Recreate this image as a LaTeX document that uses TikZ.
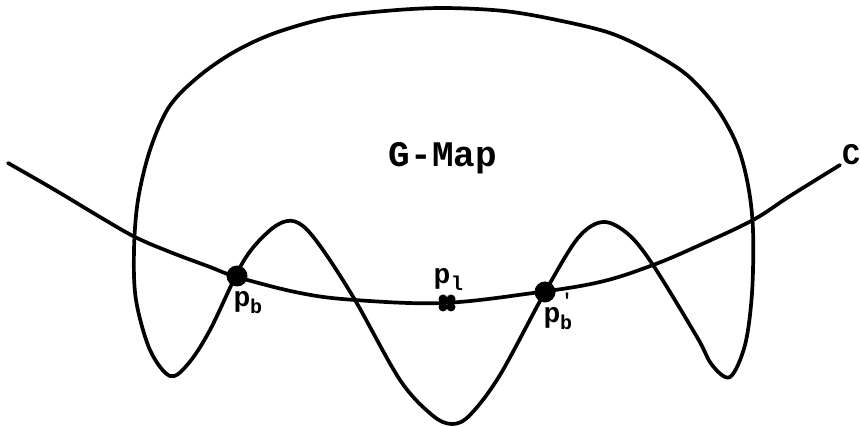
\documentclass[tikz,border=0pt]{standalone}
\usepackage{fontspec}
\newfontfamily\monofont{Liberation Mono}
\tikzset{
  curveline/.style={line width=3.7pt, line join=round, line cap=round},
  bigdot/.style={circle, fill=black, inner sep=0pt, minimum size=21pt},
  lbl/.style={font=\monofont\bfseries, inner sep=0pt},
}
\newcommand{\pfont}{\fontsize{28}{28}\selectfont}
\newcommand{\subfont}{\fontsize{20}{20}\selectfont}
\begin{document}
\begin{tikzpicture}[x=1pt,y=-1pt]
\useasboundingbox (0,0) rectangle (860,427);
% G-Map region
\draw[curveline] plot[smooth cycle, tension=0.55] coordinates {
 (170,376) (150,350) (136,300) (134,250) (138,200) (150,150) (169,107)
 (198,77) (234,52) (275,33) (328,18) (385,11) (442,8) (504,11) (557,20)
 (610,33) (651,52) (687,75) (716,107) (737,145) (748,185) (753,230)
 (752,293) (745,345) (730,377) (712,365) (697,337) (653,265) (628,234)
 (603,222) (578,238) (545,292) (500,375) (470,415) (452,424) (432,415)
 (400,380) (355,300) (323,250) (303,226) (287,221) (268,232) (243,262)
 (210,330) (188,364)};
% curve C
\draw[curveline] plot[smooth, tension=0.6] coordinates {
 (8,163) (55,190) (100,217) (135,237) (170,252) (210,267) (237,277)
 (300,293) (355,300) (443,303) (533,293) (600,282) (653,265) (700,245)
 (753,220) (790,196) (840,165)};
\node[lbl, font=\monofont\bfseries\fontsize{30}{30}\selectfont] (C) at (851,155) {C};
\node[lbl, font=\monofont\bfseries\fontsize{36}{36}\selectfont] (gmap) at (443,158) {G-Map};
% points
\node[bigdot] (pb) at (237,276) {};
\node[bigdot] (pbp) at (545,292) {};
\coordinate (pl) at (447,303);
\fill (pl) ++(-4,-4) circle (4.5) ++(8,0) circle (4.5) ++(0,8) circle (4.5) ++(-8,0) circle (4.5);
% labels
\node[lbl] (pbP) at (242,302) {\pfont p};
\node[lbl] (pbS) at (256,306) {\subfont b};
\node[lbl] (plP) at (442,279) {\pfont p};
\node[lbl] (plS) at (457,283) {\subfont l};
\node[lbl] (pbpP) at (552,318) {\pfont p};
\node[lbl] (pbpS) at (566,322) {\subfont b};
\node[lbl] (prime) at (567,300) {\subfont '};
\end{tikzpicture}
\end{document}
